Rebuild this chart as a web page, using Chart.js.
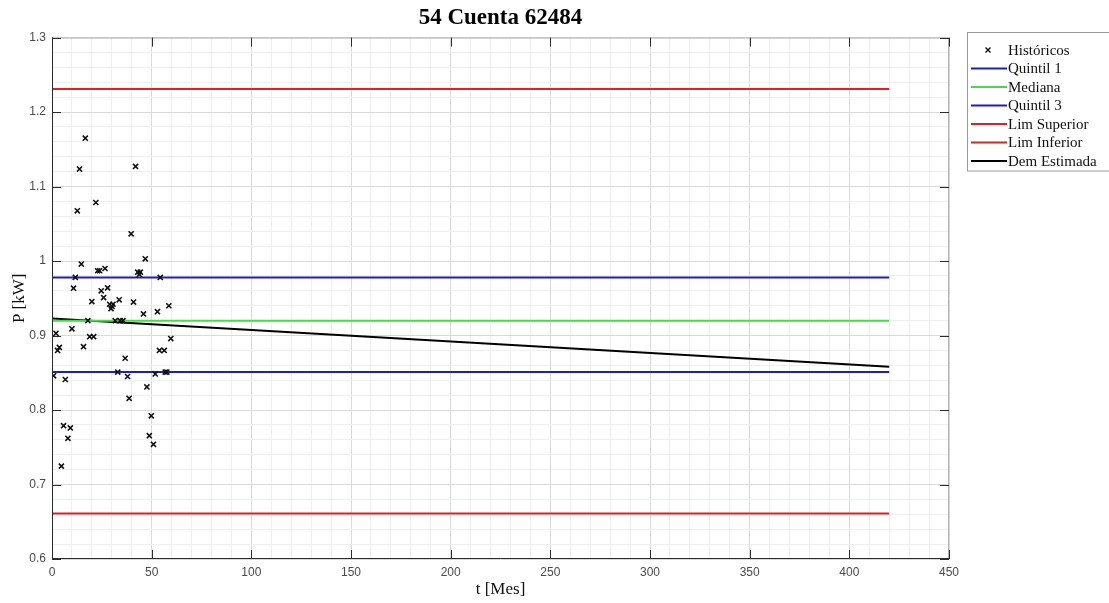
<!DOCTYPE html>
<html>
<head>
<meta charset="utf-8">
<title>54 Cuenta 62484</title>
<script src="https://cdn.jsdelivr.net/npm/chart.js@4.4.1/dist/chart.umd.min.js"></script>
<style>
  html, body { margin: 0; padding: 0; background: #fff; }
</style>
</head>
<body>
<canvas id="myChart" width="1109" height="603"></canvas>
<script>
//----- Datos -----
const mesesHist = [16.7, 13.8, 41.9, 12.7, 22.0, 39.7, 46.8, 14.7, 22.9, 23.9, 26.6, 43.0, 44.3, 43.8,
  11.7, 54.3, 10.8, 24.7, 27.9, 20.0, 25.9, 28.9, 30.1, 29.6, 30.6, 33.7, 40.9, 45.9, 52.9, 58.6,
  18.0, 31.7, 34.2, 35.6, 2.0, 10.0, 18.9, 20.9, 3.7, 2.8, 15.8, 36.7, 59.6, 53.9, 56.3,
  33.0, 56.8, 57.6, 0.8, 6.7, 37.9, 51.8, 47.6, 38.7, 49.8, 5.8, 9.2, 8.0, 48.8, 50.9, 4.7];
const potHist = [1.165, 1.1235, 1.127, 1.0675, 1.0786, 1.0366, 1.003, 0.996, 0.987, 0.987, 0.990, 0.985, 0.985, 0.982,
  0.978, 0.978, 0.9636, 0.960, 0.964, 0.9456, 0.951, 0.942, 0.939, 0.936, 0.942, 0.948, 0.945, 0.929, 0.932, 0.940,
  0.920, 0.920, 0.920, 0.920, 0.903, 0.909, 0.8985, 0.8985, 0.884, 0.880, 0.885, 0.8695, 0.896, 0.880, 0.880,
  0.851, 0.851, 0.851, 0.846, 0.841, 0.845, 0.8485, 0.831, 0.8157, 0.7923, 0.779, 0.776, 0.762, 0.7655, 0.754, 0.7247];

const tLineas = [0, 420];
const quintil1 = 0.851;
const mediana = 0.920;
const quintil3 = 0.978;
const limSuperior = 1.231;
const limInferior = 0.661;
const demEstimada = [0.923, 0.858];

const ticksX = [0, 50, 100, 150, 200, 250, 300, 350, 400, 450];
const ticksY = [0.6, 0.7, 0.8, 0.9, 1, 1.1, 1.2, 1.3];

// Colores
const azul = "rgb(30, 30, 185)";
const verde = "rgb(70, 220, 70)";
const rojo = "rgb(220, 35, 35)";

function lineaHorizontal(valor) {
  return tLineas.map((t) => ({ x: t, y: valor }));
}

function esMayor(valores, v) {
  return valores.some((m) => Math.abs(m - v) < 1e-6);
}

const datasets = [
  {
    type: "scatter",
    label: "Históricos",
    data: mesesHist.map((t, i) => ({ x: t, y: potHist[i] })),
    pointStyle: "crossRot",
    pointRadius: 3.6,
    borderColor: "#111",
    borderWidth: 1.6,
  },
  { label: "Quintil 1", data: lineaHorizontal(quintil1), borderColor: azul },
  { label: "Mediana", data: lineaHorizontal(mediana), borderColor: verde },
  { label: "Quintil 3", data: lineaHorizontal(quintil3), borderColor: azul },
  { label: "Lim Superior", data: lineaHorizontal(limSuperior), borderColor: rojo },
  { label: "Lim Inferior", data: lineaHorizontal(limInferior), borderColor: rojo },
  { label: "Dem Estimada", data: tLineas.map((t, i) => ({ x: t, y: demEstimada[i] })), borderColor: "#000" },
];
datasets.slice(1).forEach((d) => {
  d.type = "line";
  d.borderWidth = 2;
  d.pointRadius = 0;
});

// Caja del grafico y marcas de los ejes hacia dentro (estilo MATLAB)
const cajaEjes = {
  id: "cajaEjes",
  afterDraw(chart) {
    const { ctx, chartArea: a, scales } = chart;
    const largo = 9;
    ctx.save();
    ctx.lineWidth = 1;
    ctx.strokeStyle = "#b0b0b0";
    ctx.beginPath();
    ctx.moveTo(a.left, a.top + 0.5);
    ctx.lineTo(a.right - 0.5, a.top + 0.5);
    ctx.lineTo(a.right - 0.5, a.bottom);
    ctx.stroke();
    ctx.strokeStyle = "#2b2b2b";
    ctx.beginPath();
    ctx.moveTo(a.left + 0.5, a.top);
    ctx.lineTo(a.left + 0.5, a.bottom - 0.5);
    ctx.lineTo(a.right, a.bottom - 0.5);
    ctx.stroke();
    ctx.beginPath();
    ticksX.forEach((v) => {
      const x = Math.round(scales.x.getPixelForValue(v)) + 0.5;
      ctx.moveTo(x, a.bottom);
      ctx.lineTo(x, a.bottom - largo);
      ctx.moveTo(x, a.top);
      ctx.lineTo(x, a.top + largo);
    });
    ticksY.forEach((v) => {
      const y = Math.round(scales.y.getPixelForValue(v)) + 0.5;
      ctx.moveTo(a.left, y);
      ctx.lineTo(a.left + largo, y);
      ctx.moveTo(a.right, y);
      ctx.lineTo(a.right - largo, y);
    });
    ctx.stroke();
    ctx.restore();
  },
};

// Leyenda dibujada a la derecha
const leyenda = {
  id: "leyenda",
  afterDraw(chart) {
    const ctx = chart.ctx;
    const x0 = 967, y0 = 32, paso = 18.5;
    const items = chart.data.datasets;
    ctx.save();
    ctx.fillStyle = "#fff";
    ctx.fillRect(x0, y0, 150, paso * items.length + 9);
    ctx.strokeStyle = "#9a9a9a";
    ctx.lineWidth = 1;
    ctx.strokeRect(x0 + 0.5, y0 + 0.5, 150, paso * items.length + 9);
    ctx.font = "15px 'Liberation Serif', 'Times New Roman', serif";
    ctx.textBaseline = "middle";
    items.forEach((d, i) => {
      const y = y0 + 18 + i * paso;
      ctx.strokeStyle = d.borderColor;
      if (d.type === "scatter") {
        ctx.lineWidth = 1.4;
        ctx.beginPath();
        ctx.moveTo(985.5, y - 2.5);
        ctx.lineTo(990.5, y + 2.5);
        ctx.moveTo(990.5, y - 2.5);
        ctx.lineTo(985.5, y + 2.5);
        ctx.stroke();
      } else {
        ctx.lineWidth = 2;
        ctx.beginPath();
        ctx.moveTo(971, y);
        ctx.lineTo(1007, y);
        ctx.stroke();
      }
      ctx.fillStyle = "#111";
      ctx.fillText(d.label, 1008, y + 1);
    });
    ctx.restore();
  },
};

const fuenteTicks = { family: "'Liberation Sans', Arial, sans-serif", size: 12 };
const fuenteTitulos = { family: "'Liberation Serif', 'Times New Roman', serif", size: 17 };

const config = {
  type: "scatter",
  data: { datasets },
  options: {
    responsive: false,
    animation: false,
    layout: { padding: { right: 160 } },
    plugins: {
      legend: { display: false },
      tooltip: { enabled: false },
      title: {
        display: true,
        text: "54 Cuenta 62484",
        fullSize: false,
        color: "#000",
        font: { family: "'Liberation Serif', 'Times New Roman', serif", size: 23, weight: "bold" },
        padding: { top: 4, bottom: 6 },
      },
    },
    scales: {
      x: {
        type: "linear",
        min: 0,
        max: 450,
        afterFit(scale) {
          scale.height = 44;
        },
        ticks: {
          stepSize: 10,
          autoSkip: false,
          maxRotation: 0,
          padding: 6,
          color: "#4a4a4a",
          font: fuenteTicks,
          callback: (v) => (esMayor(ticksX, v) ? String(v) : ""),
        },
        grid: {
          drawTicks: false,
          color: (c) => (esMayor(ticksX, c.tick.value) ? "#d9d9d9" : "#efefef"),
        },
        border: { display: false },
        title: { display: true, text: "t [Mes]", color: "#111", font: fuenteTitulos, padding: { top: 2, bottom: 3 } },
      },
      y: {
        type: "linear",
        min: 0.6,
        max: 1.3,
        afterFit(scale) {
          scale.width = 52;
        },
        ticks: {
          stepSize: 0.02,
          autoSkip: false,
          padding: 6,
          color: "#4a4a4a",
          font: fuenteTicks,
          callback: (v) => (esMayor(ticksY, v) ? String(Math.round(v * 10) / 10) : ""),
        },
        grid: {
          drawTicks: false,
          color: (c) => (esMayor(ticksY, c.tick.value) ? "#d9d9d9" : "#efefef"),
        },
        border: { display: false },
        title: { display: true, text: "P [kW]", color: "#111", font: fuenteTitulos, padding: { top: 9, bottom: 0 } },
      },
    },
  },
  plugins: [cajaEjes, leyenda],
};

const myChart = new Chart(document.querySelector("#myChart"), config);
</script>
</body>
</html>
